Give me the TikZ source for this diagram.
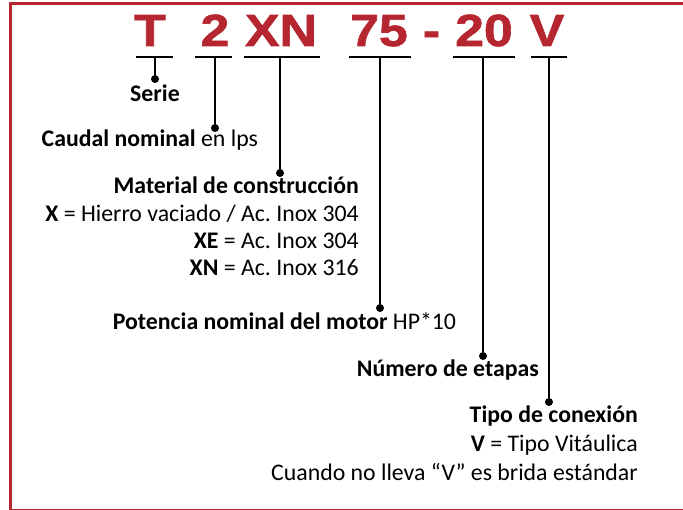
\documentclass[tikz,border=0pt]{standalone}
\usepackage{fontspec}
\usepackage{tikz}
\usepackage{xcolor}
\setmainfont{Carlito}
\newfontfamily\codefamily{Liberation Sans}[BoldFeatures={FakeStretch=1.15,FakeBold=1.5}]
\definecolor{tred}{RGB}{182,38,48}
\frenchspacing

\begin{document}
\begin{tikzpicture}[x=1pt,y=-1pt,
  code/.style={text=tred,font=\codefamily\bfseries\fontsize{45}{45}\selectfont,anchor=base,inner sep=0},
  lbl/.style={font=\fontsize{23.8}{28}\selectfont,inner sep=0},
  bar/.style={line width=2.7pt},
  stem/.style={line width=2.2pt},
  dot/.style={circle,fill,inner sep=0,minimum size=8pt}]
\useasboundingbox (0,0) rectangle (683,510);
% red frame, open on the right
\draw[tred,line width=2.3pt] (683,3.5) -- (10.5,3.5);
\draw[tred,line width=3pt] (10.5,2.4) -- (10.5,510);
\draw[tred,line width=2pt] (10.5,509.5) -- (683,509.5);

% model code
\node [code] (codeT) at (150,46) {T};
\node [code] (code2) at (215,46) {2};
\node [code] (codeXN) at (281,46) {XN};
\node [code] (code75) at (379,46) {75};
\node [code] (codedash) at (431.5,46) {-};
\node [code] (code20) at (484,46) {20};
\node [code] (codeV) at (547,46) {V};

% underlines
\draw [bar] (136,57) -- (173,57);
\draw [bar] (195,57) -- (232,57);
\draw [bar] (244,57) -- (320,57);
\draw [bar] (349,57) -- (411,57);
\draw [bar] (453,57) -- (515,57);
\draw [bar] (531,57) -- (567,57);

% stems and dots
\coordinate (topT) at (155,57);
\coordinate (top2) at (215,57);
\coordinate (topXN) at (280,57);
\coordinate (top75) at (380,57);
\coordinate (top20) at (483,57);
\coordinate (topV) at (549,57);
\node [dot] (dotT) at (155,79) {};
\node [dot] (dot2) at (215,128) {};
\node [dot] (dotXN) at (280,173) {};
\node [dot] (dot75) at (380,308) {};
\node [dot] (dot20) at (483,356) {};
\node [dot] (dotV) at (549,402) {};
\draw [stem] (topT) -- (dotT);
\draw [stem] (top2) -- (dot2);
\draw [stem] (topXN) -- (dotXN);
\draw [stem] (top75) -- (dot75);
\draw [stem] (top20) -- (dot20);
\draw [stem] (topV) -- (dotV);

% labels
\node [lbl,anchor=base] (serie) at (155,101.7) {\textbf{Serie}};
\node [lbl,anchor=base west] (caudal) at (41.5,146.7) {\textbf{Caudal nominal} en lps};
\node [lbl,anchor=base east] (matl) at (359,194) {\textbf{Material de construcción}};
\node [lbl,anchor=base east] (matX) at (359,221.5) {\textbf{X} = Hierro vaciado / Ac. Inox 304};
\node [lbl,anchor=base east] (matXE) at (359,248.5) {\textbf{XE} = Ac. Inox 304};
\node [lbl,anchor=base east] (matXN) at (359,275.5) {\textbf{XN} = Ac. Inox 316};
\node [lbl,anchor=base west] (potencia) at (112.7,329.3) {\textbf{Potencia nominal del motor} HP*10};
\node [lbl,anchor=base east] (etapas) at (539,376.7) {\textbf{Número de etapas}};
\node [lbl,anchor=base east] (tipo) at (638,423) {\textbf{Tipo de conexión}};
\node [lbl,anchor=base east] (tipoV) at (638,451.5) {\textbf{V} = Tipo Vitáulica};
\node [lbl,anchor=base east] (brida) at (638,480) {Cuando no lleva “V” es brida estándar};
\end{tikzpicture}
\end{document}
